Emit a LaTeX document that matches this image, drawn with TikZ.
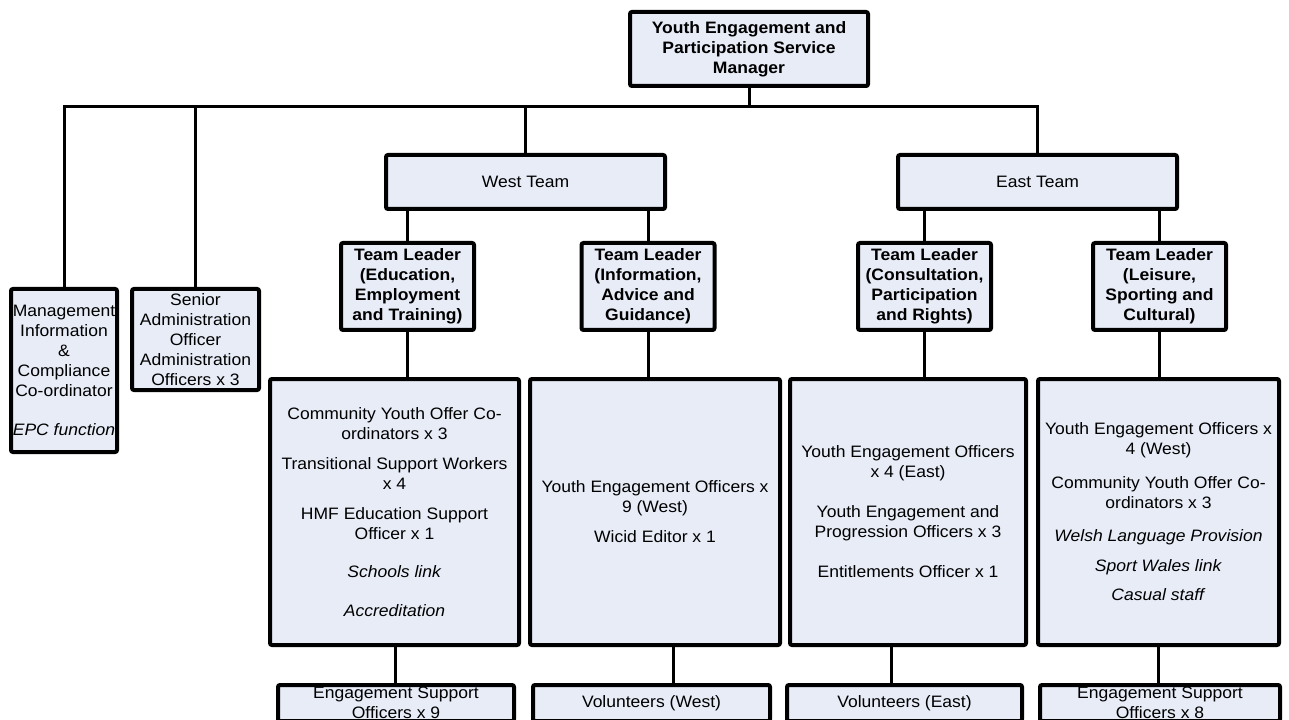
\documentclass[tikz,border=0pt]{standalone}
\usepackage{fontspec}
\setmainfont[FakeStretch=1.06]{Liberation Sans}
\definecolor{boxfill}{RGB}{231,236,247}
\begin{document}
\begin{tikzpicture}[x=0.75pt,y=-0.75pt,
  box/.style={draw=black, line width=3pt, fill=boxfill, rounded corners=1.5pt,
    inner sep=0pt, align=center, font=\fontsize{12.4}{15}\selectfont},
  boldbox/.style={box, font=\fontsize{12.4}{15}\selectfont\bfseries},
  leader/.style={boldbox, minimum width=99.75pt, minimum height=65.25pt},
  bigbox/.style={box, minimum height=199.5pt},
  lowbox/.style={box, minimum height=27pt},
  conn/.style={line width=2.25pt}]
\useasboundingbox (0,0) rectangle (1289,720);
\clip (0,0) rectangle (1289,720);

% top level
\node[boldbox, minimum width=178.5pt, minimum height=55.5pt] (top) at (749,49)
  {Youth Engagement and\\Participation Service\\Manager};

\node[box, minimum width=79.5pt, minimum height=122.25pt] (mgmt) at (64,370.5)
  {Management\\Information\\\&\\Compliance\\Co-ordinator\\[14pt]\textit{EPC function}};
\node[box, minimum width=95.25pt, minimum height=75.75pt] (senior) at (195.5,339.5)
  {Senior\\Administration\\Officer\\Administration\\Officers x 3};

\node[box, minimum width=209.25pt, minimum height=40.5pt] (west) at (525.5,182) {West Team};
\node[box, minimum width=209.25pt, minimum height=40.5pt] (east) at (1037.5,182) {East Team};

% team leaders
\node[leader] (tl1) at (407.5,286.5) {Team Leader\\(Education,\\Employment\\and Training)};
\node[leader] (tl2) at (648,286.5) {Team Leader\\(Information,\\Advice and\\Guidance)};
\node[leader] (tl3) at (924.5,286.5) {Team Leader\\(Consultation,\\Participation\\and Rights)};
\node[leader] (tl4) at (1159.5,286.5) {Team Leader\\(Leisure,\\Sporting and\\Cultural)};

% staff boxes
\node[bigbox, minimum width=186.75pt] (big1) at (394.5,512)
  {Community Youth Offer Co-\\ordinators x 3\\[7.5pt]Transitional Support Workers\\x 4\\[7.5pt]HMF Education Support\\Officer x 1\\[13.5pt]\textit{Schools link}\\[14pt]\textit{Accreditation}};
\node[bigbox, minimum width=187.5pt] (big2) at (655,512)
  {Youth Engagement Officers x\\9 (West)\\[7.5pt]Wicid Editor x 1};
\node[bigbox, minimum width=177pt] (big3) at (908,512)
  {Youth Engagement Officers\\x 4 (East)\\[15pt]Youth Engagement and\\Progression Officers x 3\\[15pt]Entitlements Officer x 1};
\node[bigbox, minimum width=180.75pt] (big4) at (1158.5,512)
  {Youth Engagement Officers x\\4 (West)\\[10pt]Community Youth Offer Co-\\ordinators x 3\\[10pt]\textit{Welsh Language Provision}\\[7.5pt]\textit{Sport Wales link}\\[7pt]\textit{Casual staff}};

% bottom boxes
\node[lowbox, minimum width=177pt] (bot1) at (396,703) {Engagement Support\\Officers x 9};
\node[lowbox, minimum width=177.75pt] (bot2) at (651.5,703) {Volunteers (West)};
\node[lowbox, minimum width=176.25pt] (bot3) at (904.5,703) {Volunteers (East)};
\node[lowbox, minimum width=180pt] (bot4) at (1160,703) {Engagement Support\\Officers x 8};

% connectors
\coordinate (bus) at (0,107);
\draw[conn] (mgmt.north) -- (mgmt.north |- bus) -- (east.north |- bus) -- (east.north);
\draw[conn] (senior.north) -- (senior.north |- bus);
\draw[conn] (west.north) -- (west.north |- bus);
\draw[conn] (top.south) -- (top.south |- bus);

\draw[conn] (west.south -| tl1.north) -- (tl1.north);
\draw[conn] (west.south -| tl2.north) -- (tl2.north);
\draw[conn] (east.south -| tl3.north) -- (tl3.north);
\draw[conn] (east.south -| tl4.north) -- (tl4.north);

\draw[conn] (tl1.south) -- (tl1.south |- big1.north);
\draw[conn] (tl2.south) -- (tl2.south |- big2.north);
\draw[conn] (tl3.south) -- (tl3.south |- big3.north);
\draw[conn] (tl4.south) -- (tl4.south |- big4.north);

\coordinate (d1) at (395,0);
\coordinate (d2) at (673,0);
\coordinate (d3) at (891,0);
\coordinate (d4) at (1158,0);
\draw[conn] (d1 |- big1.south) -- (d1 |- bot1.north);
\draw[conn] (d2 |- big2.south) -- (d2 |- bot2.north);
\draw[conn] (d3 |- big3.south) -- (d3 |- bot3.north);
\draw[conn] (d4 |- big4.south) -- (d4 |- bot4.north);
\end{tikzpicture}
\end{document}
